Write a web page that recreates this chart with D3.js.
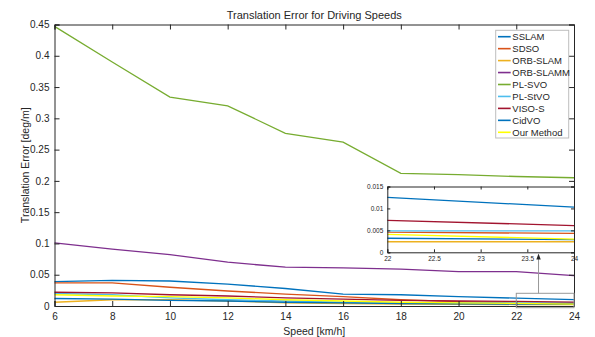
<!DOCTYPE html>
<html>
<head>
<meta charset="utf-8">
<script src="https://cdn.jsdelivr.net/npm/d3@7"></script>
<style>
  body { margin: 0; background: #fff; }
  text { font-family: "Liberation Sans", Arial, sans-serif; fill: #262626; }
</style>
</head>
<body>
<div id="chart"></div>
<script>
var speeds = [6, 8, 10, 12, 14, 16, 18, 20, 22, 24];
var methods = ["SSLAM", "SDSO", "ORB-SLAM", "ORB-SLAMM", "PL-SVO", "PL-StVO", "VISO-S", "CidVO", "Our Method"];
var colors = ["#0072BD", "#D95319", "#EDB120", "#7E2F8E", "#77AC30", "#4DBEEE", "#A2142F", "#0072BD", "#FFFF00"];

var sslam     = [0.039, 0.041, 0.040, 0.035, 0.028, 0.019, 0.018, 0.015, 0.0125, 0.0103];
var sdso      = [0.037, 0.037, 0.030, 0.024, 0.019, 0.015, 0.010, 0.007, 0.0046, 0.0043];
var orbSlam   = [0.006, 0.010, 0.010, 0.008, 0.005, 0.004, 0.003, 0.0027, 0.0024, 0.0024];
var orbSlamm  = [0.101, 0.091, 0.082, 0.070, 0.062, 0.061, 0.059, 0.055, 0.055, 0.0485];
var plSvo     = [0.447, 0.390, 0.334, 0.320, 0.276, 0.262, 0.212, 0.210, 0.207, 0.205];
var plStvo    = [0.020, 0.018, 0.013, 0.010, 0.008, 0.006, 0.0055, 0.005, 0.0049, 0.0049];
var visoS     = [0.022, 0.021, 0.018, 0.016, 0.013, 0.011, 0.009, 0.008, 0.0073, 0.0061];
var cidVo     = [0.012, 0.011, 0.009, 0.008, 0.006, 0.005, 0.004, 0.0035, 0.0032, 0.0029];
var ourMethod = [0.018, 0.016, 0.015, 0.013, 0.010, 0.008, 0.006, 0.005, 0.0041, 0.0030];

var seriesValues = [sslam, sdso, orbSlam, orbSlamm, plSvo, plStvo, visoS, cidVo, ourMethod];

var xTicks = [6, 8, 10, 12, 14, 16, 18, 20, 22, 24];
var yTicks = [0, 0.05, 0.1, 0.15, 0.2, 0.25, 0.3, 0.35, 0.4, 0.45];
var insetXTicks = [22, 22.5, 23, 23.5, 24];
var insetYTicks = [0, 0.005, 0.01, 0.015];

function init() {
    var w = 595, h = 337;
    var left = 54.5, right = 574, top = 24.5, bottom = 306;

    var svg = d3.select("#chart").append("svg")
        .attr("width", w).attr("height", h);

    var x = d3.scaleLinear().domain([6, 24]).range([left, right]);
    var y = d3.scaleLinear().domain([0, 0.45]).range([bottom, top]);

    var series = methods.map(function(m, i) {
        return { name: m, color: colors[i], values: seriesValues[i] };
    });

    var line = d3.line()
        .x(function(d, i) { return x(speeds[i]); })
        .y(function(d) { return y(d); });

    svg.append("g").selectAll("path")
        .data(series)
        .enter().append("path")
        .attr("d", function(d) { return line(d.values); })
        .attr("fill", "none")
        .attr("stroke", function(d) { return d.color; })
        .attr("stroke-width", 1.3);

    // axes (MATLAB style box, ticks inside)
    var fmt = function(d) { return String(d); };
    var gx = svg.append("g")
        .attr("transform", "translate(0," + bottom + ")")
        .call(d3.axisBottom(x).tickValues(xTicks).tickFormat(fmt).tickSize(-5).tickPadding(7));
    var gxt = svg.append("g")
        .attr("transform", "translate(0," + top + ")")
        .call(d3.axisTop(x).tickValues(xTicks).tickFormat("").tickSize(-5));
    var gy = svg.append("g")
        .attr("transform", "translate(" + left + ",0)")
        .call(d3.axisLeft(y).tickValues(yTicks).tickFormat(fmt).tickSize(-5).tickPadding(5));
    var gyr = svg.append("g")
        .attr("transform", "translate(" + right + ",0)")
        .call(d3.axisRight(y).tickValues(yTicks).tickFormat("").tickSize(-5));

    [gx, gxt, gy, gyr].forEach(function(g) {
        g.select(".domain").attr("stroke", "#262626").attr("stroke-width", 1);
        g.selectAll(".tick line").attr("stroke", "#262626");
        g.selectAll("text").style("font-size", "10px").attr("fill", "#262626")
            .style("font-family", "Liberation Sans, Arial, sans-serif");
    });
    gx.selectAll("text").attr("dy", "0.71em");

    // title and labels
    svg.append("text")
        .attr("x", (left + right) / 2).attr("y", 19)
        .attr("text-anchor", "middle")
        .style("font-size", "11px")
        .text("Translation Error for Driving Speeds");
    svg.append("text")
        .attr("x", (left + right) / 2).attr("y", 335)
        .attr("text-anchor", "middle")
        .style("font-size", "10.5px")
        .text("Speed [km/h]");
    svg.append("text")
        .attr("transform", "translate(29," + ((top + bottom) / 2) + ") rotate(-90)")
        .attr("text-anchor", "middle")
        .style("font-size", "10.5px")
        .text("Translation Error [deg/m]");

    // zoom rectangle + arrow
    var zx0 = x(22), zx1 = x(24);
    svg.append("rect")
        .attr("x", zx0).attr("y", 293.3)
        .attr("width", zx1 - zx0).attr("height", 14.4)
        .attr("fill", "none").attr("stroke", "#999").attr("stroke-width", 1);

    // inset axes
    var il = 387.3, ir = 574, it = 186.5, ib = 252.3;
    var ix = d3.scaleLinear().domain([22, 24]).range([il, ir]);
    var iy = d3.scaleLinear().domain([0, 0.015]).range([ib, it]);

    var arrowX = ix(23.62);
    svg.append("line")
        .attr("x1", arrowX).attr("x2", arrowX)
        .attr("y1", 293.3).attr("y2", 258)
        .attr("stroke", "#999").attr("stroke-width", 1);
    svg.append("path")
        .attr("d", "M" + (arrowX - 2.2) + ",259.5 L" + arrowX + ",253.5 L" + (arrowX + 2.2) + ",259.5 Z")
        .attr("fill", "#262626");

    var inset = svg.append("g");
    inset.append("rect")
        .attr("x", il).attr("y", it)
        .attr("width", ir - il).attr("height", ib - it)
        .attr("fill", "#fff");
    svg.append("defs").append("clipPath").attr("id", "insetClip")
        .append("rect")
        .attr("x", il).attr("y", it)
        .attr("width", ir - il).attr("height", ib - it);

    var iline = d3.line()
        .x(function(d, i) { return ix(speeds[i]); })
        .y(function(d) { return iy(d); });

    inset.append("g").attr("clip-path", "url(#insetClip)")
        .selectAll("path")
        .data(series)
        .enter().append("path")
        .attr("d", function(d) { return iline(d.values); })
        .attr("fill", "none")
        .attr("stroke", function(d) { return d.color; })
        .attr("stroke-width", 1.3);

    var ifmt = function(d) { return String(d); };
    var igx = inset.append("g")
        .attr("transform", "translate(0," + ib + ")")
        .call(d3.axisBottom(ix).tickValues(insetXTicks).tickFormat(ifmt).tickSize(-3).tickPadding(4));
    var igxt = inset.append("g")
        .attr("transform", "translate(0," + it + ")")
        .call(d3.axisTop(ix).tickValues(insetXTicks).tickFormat("").tickSize(-3));
    var igy = inset.append("g")
        .attr("transform", "translate(" + il + ",0)")
        .call(d3.axisLeft(iy).tickValues(insetYTicks).tickFormat(ifmt).tickSize(-3).tickPadding(4));
    var igyr = inset.append("g")
        .attr("transform", "translate(" + ir + ",0)")
        .call(d3.axisRight(iy).tickValues(insetYTicks).tickFormat("").tickSize(-3));
    [igx, igxt, igy, igyr].forEach(function(g) {
        g.select(".domain").attr("stroke", "#262626").attr("stroke-width", 1);
        g.selectAll(".tick line").attr("stroke", "#262626");
        g.selectAll("text").style("font-size", "6.5px").attr("fill", "#262626")
            .style("font-family", "Liberation Sans, Arial, sans-serif");
    });

    // legend
    var lg = svg.append("g");
    lg.append("rect")
        .attr("x", 495.7).attr("y", 30.3)
        .attr("width", 73).attr("height", 107.7)
        .attr("fill", "#fff").attr("stroke", "#bdbdbd").attr("stroke-width", 1);
    var items = lg.selectAll("g.item")
        .data(series)
        .enter().append("g")
        .attr("class", "item")
        .attr("transform", function(d, i) { return "translate(0," + (36.7 + i * 11.95) + ")"; });
    items.append("line")
        .attr("x1", 498).attr("x2", 510.7)
        .attr("stroke", function(d) { return d.color; })
        .attr("stroke-width", 1.6);
    items.append("text")
        .attr("x", 512.3).attr("dy", "0.35em")
        .style("font-size", "9.5px")
        .text(function(d) { return d.name; });
}
window.onload = init;
</script>
</body>
</html>
